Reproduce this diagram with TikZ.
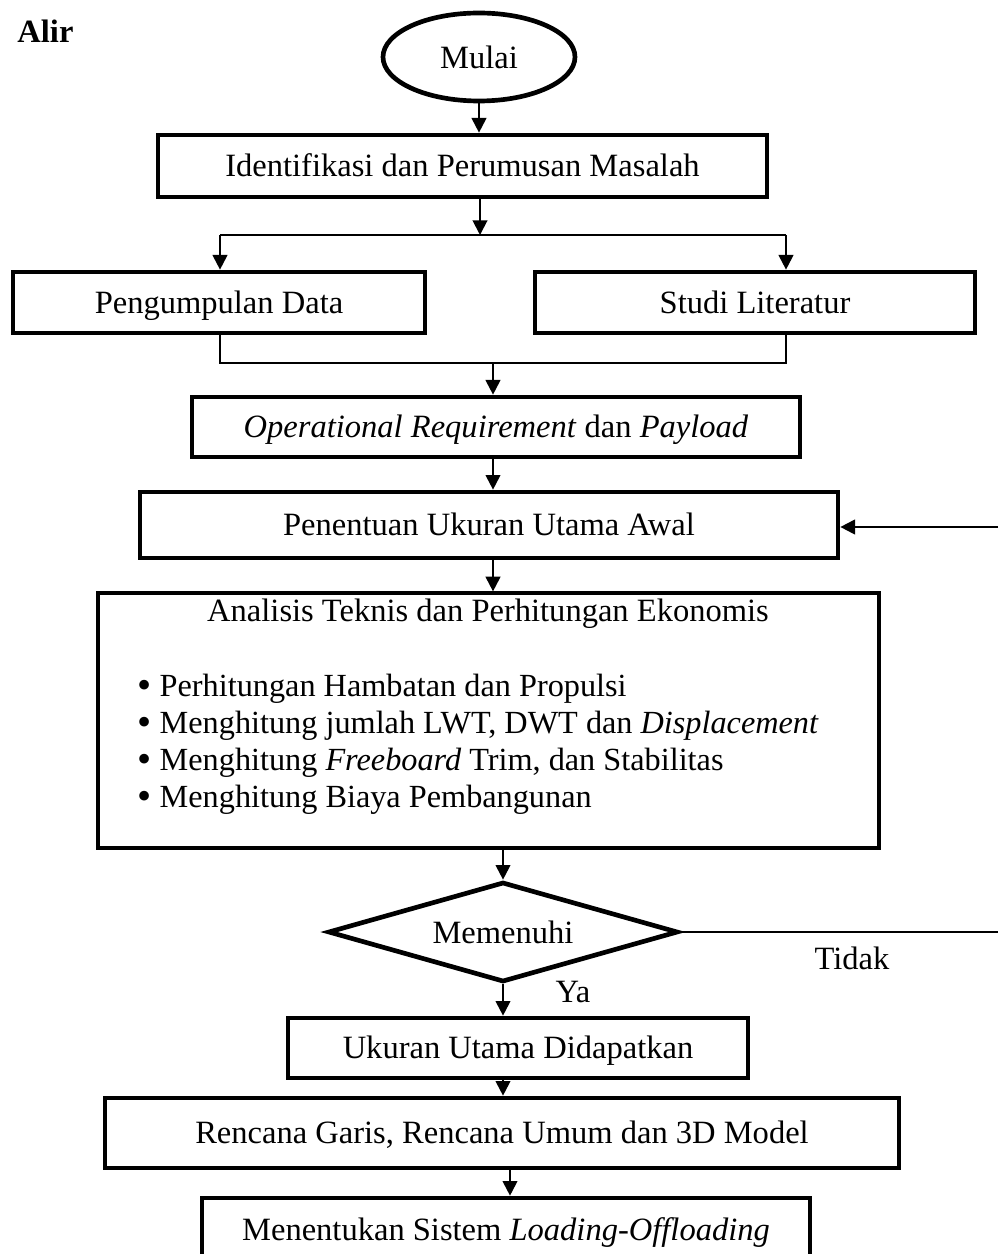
\documentclass[tikz,border=0pt]{standalone}
\usepackage{fontspec}
\usepackage{graphicx}
\setmainfont{Liberation Serif}
\usetikzlibrary{arrows.meta, shapes, shapes.geometric, positioning}

\newcommand{\butir}{\smash{\raisebox{-0.12ex}{\scalebox{1.25}{\textbullet}}}\ }

\tikzset{
    kotak/.style 2 args={shape=rectangle, draw=black, line width=1.75pt, inner sep=0pt,
        minimum width=#1*0.375pt, minimum height=#2*0.375pt, text height=9.5pt, text depth=1.5pt},
    baris/.style={anchor=west, inner sep=0pt, text height=9pt, text depth=2.5pt,
        font=\fontsize{12.1}{13.6}\selectfont},
    panah/.style={-{Triangle[length=5.5pt, width=5.5pt]}, line width=0.75pt},
    garis/.style={line width=0.6pt}
}

\begin{document}
\begin{tikzpicture}[x=0.375pt, y=-0.375pt, font=\fontsize{12.2}{13.6}\selectfont]
    \useasboundingbox (0,0) rectangle (998,1254);

    \node[anchor=west, font=\fontsize{12.2}{13.6}\selectfont\bfseries] (judul) at (8,31) {Alir};

    \node[shape=ellipse, draw=black, line width=1.75pt, inner sep=0pt,
          minimum width=192*0.375pt, minimum height=88*0.375pt] (mulai) at (479,57) {Mulai};
    \node[kotak={609}{62}]  (identifikasi) at (462.5,166) {Identifikasi dan Perumusan Masalah};
    \node[kotak={412}{61}]  (pengumpulan)  at (219,302.5) {Pengumpulan Data};
    \node[kotak={440}{61}]  (studi)        at (755,302.5) {Studi Literatur};
    \node[kotak={608}{60}]  (operational)  at (496,427)   {\textit{Operational Requirement} dan \textit{Payload}};
    \node[kotak={698}{66}]  (penentuan)    at (489,525)   {Penentuan Ukuran Utama Awal};
    \node[kotak={781}{255}, line width=1.2pt] (analisis) at (488.5,720.5) {};
    \node (analisisjudul) at (488,614) {Analisis Teknis dan Perhitungan Ekonomis};
    \node[baris] (butir1) at (137,688) {\butir Perhitungan Hambatan dan Propulsi};
    \node[baris] (butir2) at (137,725) {\butir Menghitung jumlah LWT, DWT dan \textit{Displacement}};
    \node[baris] (butir3) at (137,762) {\butir Menghitung \textit{Freeboard} Trim, dan Stabilitas};
    \node[baris] (butir4) at (137,799) {\butir Menghitung Biaya Pembangunan};
    \node[shape=diamond, shape aspect=3.5, draw=black, line width=1.75pt, inner sep=0pt,
          minimum width=350*0.375pt, minimum height=100*0.375pt] (memenuhi) at (503,932) {Memenuhi};
    \node[kotak={460}{60}]  (ukuran)       at (518,1048)  {Ukuran Utama Didapatkan};
    \node[kotak={794}{70}]  (rencana)      at (502,1133)  {Rencana Garis, Rencana Umum dan 3D Model};
    \node[kotak={608}{64}]  (menentukan)   at (506,1230)  {Menentukan Sistem \textit{Loading-Offloading}};

    \node (ya)    at (573,992) {Ya};
    \node (tidak) at (852,958) {Tidak};

    % titik bantu percabangan
    \coordinate (cabang)      at (480,235);
    \coordinate (cabangkiri)  at (220,235);
    \coordinate (cabangkanan) at (786,235);
    \coordinate (gabungkiri)  at (220,363);
    \coordinate (gabungkanan) at (786,363);
    \coordinate (gabung)      at (493,363);
    \coordinate (turun)       at (510,0);
    \coordinate (tepikanan)   at (998,932);
    \coordinate (balik)       at (998,527);

    \draw[panah] (mulai.south) -- (mulai.south |- identifikasi.north);
    \draw[panah] (cabang |- identifikasi.south) -- (cabang);
    \draw[garis] (cabangkiri) -- (cabangkanan);
    \draw[panah] (cabangkiri) -- (cabangkiri |- pengumpulan.north);
    \draw[panah] (cabangkanan) -- (cabangkanan |- studi.north);
    \draw[garis] (cabangkiri |- pengumpulan.south) -- (gabungkiri) -- (gabungkanan) -- (cabangkanan |- studi.south);
    \draw[panah] (gabung) -- (gabung |- operational.north);
    \draw[panah] (gabung |- operational.south) -- (gabung |- penentuan.north);
    \draw[panah] (gabung |- penentuan.south) -- (gabung |- analisis.north);
    \draw[panah] (memenuhi.north |- analisis.south) -- (memenuhi.north);
    \draw[panah] (memenuhi.south) -- (memenuhi.south |- ukuran.north);
    \draw[panah] (memenuhi.south |- ukuran.south) -- (memenuhi.south |- rencana.north);
    \draw[panah] (turun |- rencana.south) -- (turun |- menentukan.north);

    % jalur kembali (Tidak)
    \draw[garis, line width=0.75pt] (memenuhi.east) -- (tepikanan);
    \draw[panah] (balik) -- (balik -| penentuan.east);
\end{tikzpicture}
\end{document}
